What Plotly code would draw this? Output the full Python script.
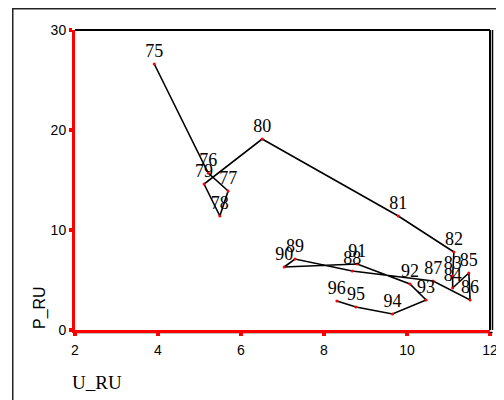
import plotly.graph_objects as go

years = ['75', '76', '77', '78', '79', '80', '81', '82', '83', '84', '85',
         '86', '87', '88', '89', '90', '91', '92', '93', '94', '95', '96']
u_ru = [3.91, 5.21, 5.69, 5.49, 5.11, 6.51, 9.79, 11.13, 11.10, 11.10, 11.49,
        11.52, 10.63, 8.68, 7.30, 7.04, 8.80, 10.07, 10.46, 9.65, 8.77, 8.31]
p_ru = [26.6, 15.7, 13.9, 11.4, 14.6, 19.1, 11.4, 7.8, 5.4, 4.2, 5.7,
        3.0, 4.9, 5.9, 7.1, 6.3, 6.6, 4.6, 3.0, 1.6, 2.3, 2.9]
x_ticks = [2, 4, 6, 8, 10, 12]
y_ticks = [0, 10, 20, 30]

fig = go.Figure()
fig.add_trace(go.Scatter(
    x=u_ru, y=p_ru, text=years,
    mode='lines+markers+text',
    textposition='top center',
    textfont=dict(family='Liberation Serif', size=18, color='black'),
    line=dict(color='black', width=1.6),
    marker=dict(color='red', size=3),
    cliponaxis=False,
    showlegend=False,
))

# page has an 8px body margin, so figure is 496x392 placed at (8,8)
FW, FH = 496, 392
W, H = 415, 300
L, T = 67, 22
B = T + H  # plot bottom in figure px

shapes = [
    # outer border
    dict(type='rect', xref='paper', yref='paper',
         x0=(4.75 - L) / W, x1=(520 - L) / W, y0=(B - 420) / H, y1=(B - 0.75) / H,
         line=dict(color='#222', width=1.5), layer='below'),
    # top frame
    dict(type='line', xref='paper', yref='paper', x0=0, x1=1, y0=1, y1=1,
         line=dict(color='black', width=2), layer='below'),
    # right frame (double)
    dict(type='line', xref='paper', yref='paper', x0=1, x1=1, y0=0, y1=1,
         line=dict(color='black', width=2), layer='below'),
    dict(type='line', xref='paper', yref='paper', x0=1 + 2.5 / W, x1=1 + 2.5 / W, y0=0, y1=1,
         line=dict(color='black', width=1.5), layer='below'),
    # black line under bottom axis
    dict(type='line', xref='paper', yref='paper', x0=0, x1=1 + 2.5 / W,
         y0=-2.5 / H, y1=-2.5 / H,
         line=dict(color='black', width=1.5), layer='below'),
]

fig.update_layout(
    width=FW, height=FH,
    margin=dict(l=L, r=FW - L - W, t=T, b=FH - T - H, autoexpand=False),
    paper_bgcolor='white', plot_bgcolor='white',
    shapes=shapes,
    xaxis=dict(range=[2, 12], tickvals=x_ticks, showgrid=False, zeroline=False,
               automargin=False,
               showline=True, linecolor='red', linewidth=3,
               ticks='outside', ticklen=3, tickwidth=4, tickcolor='red',
               tickfont=dict(family='Liberation Sans', size=14, color='black'),
               ticklabelstandoff=2),
    yaxis=dict(range=[0, 30], tickvals=y_ticks, showgrid=False, zeroline=False,
               automargin=False,
               showline=True, linecolor='red', linewidth=3,
               ticks='outside', ticklen=3, tickwidth=4, tickcolor='red',
               tickfont=dict(family='Liberation Sans', size=14, color='black'),
               ticklabelstandoff=0),
    annotations=[
        dict(text='U_RU', xref='paper', yref='paper', x=(89 - L) / W, y=(B - 374) / H,
             showarrow=False, xanchor='center', yanchor='middle',
             font=dict(family='Liberation Serif', size=19, color='black')),
        dict(text='P_RU', xref='paper', yref='paper', x=(32 - L) / W, y=(B - 300) / H,
             showarrow=False, textangle=-90, xanchor='center', yanchor='middle',
             font=dict(family='Liberation Sans', size=16, color='black')),
    ],
)

fig.write_html('out.html')
